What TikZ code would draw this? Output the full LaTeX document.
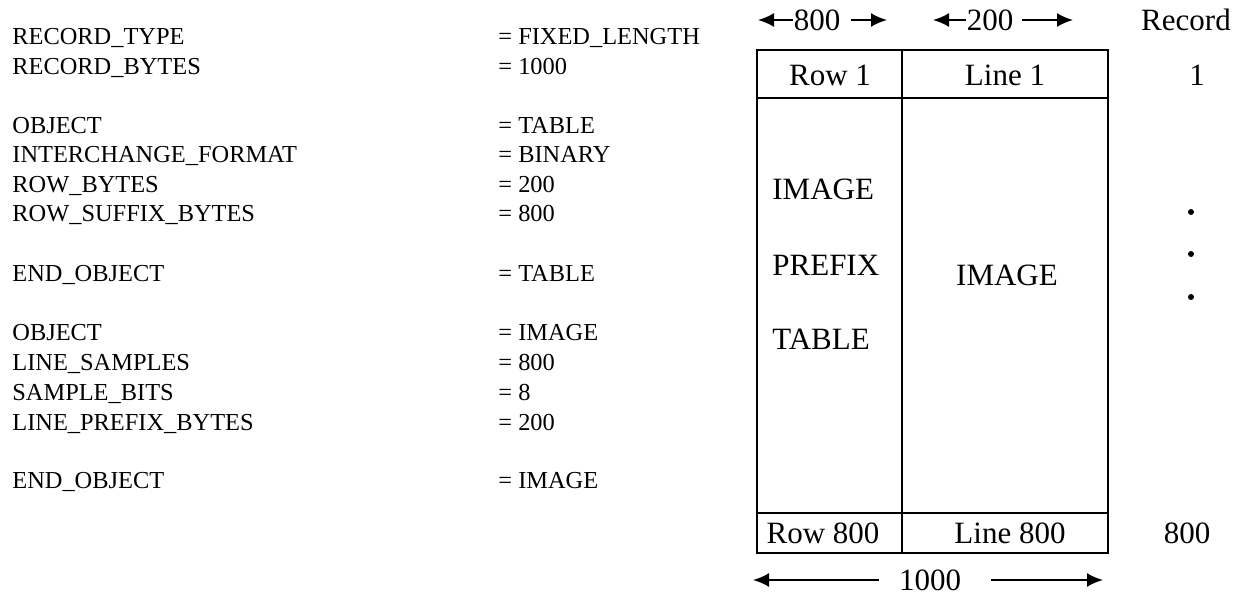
\documentclass[tikz,border=0pt]{standalone}
\usepackage{fontspec}
\setmainfont{Liberation Serif}
\usetikzlibrary{arrows.meta}

\begin{document}
\begin{tikzpicture}[
  x=0.5pt, y=-0.5pt,
  key/.style   = {anchor=base west, inner sep=0pt, font=\fontsize{12.2}{14}\selectfont},
  cell/.style  = {inner sep=0pt, font=\fontsize{15.5}{18}\selectfont},
  tag/.style   = {cell, anchor=base west},
  frame/.style = {line width=1.2pt, black},
  dim/.style   = {-{Latex[length=8pt, width=7pt]}, line width=1pt},
  dot/.style   = {fill=black}
]
\useasboundingbox (0,0) rectangle (1239,603);

% ── Label listing (left) ─────────────────────────────────────────────────────
\node[key] (k1)  at (12,45)    {RECORD\_TYPE};        \node[key] (v1)  at (498,45)    {= FIXED\_LENGTH};
\node[key] (k2)  at (12,74.5)  {RECORD\_BYTES};       \node[key] (v2)  at (498,74.5)  {= 1000};
\node[key] (k3)  at (12,133.5) {OBJECT};              \node[key] (v3)  at (498,133.5) {= TABLE};
\node[key] (k4)  at (12,163)   {INTERCHANGE\_FORMAT}; \node[key] (v4)  at (498,163)   {= BINARY};
\node[key] (k5)  at (12,192.5) {ROW\_BYTES};          \node[key] (v5)  at (498,192.5) {= 200};
\node[key] (k6)  at (12,222)   {ROW\_SUFFIX\_BYTES};  \node[key] (v6)  at (498,222)   {= 800};
\node[key] (k7)  at (12,282)   {END\_OBJECT};         \node[key] (v7)  at (498,282)   {= TABLE};
\node[key] (k8)  at (12,341)   {OBJECT};              \node[key] (v8)  at (498,341)   {= IMAGE};
\node[key] (k9)  at (12,371)   {LINE\_SAMPLES};       \node[key] (v9)  at (498,371)   {= 800};
\node[key] (k10) at (12,401)   {SAMPLE\_BITS};        \node[key] (v10) at (498,401)   {= 8};
\node[key] (k11) at (12,431)   {LINE\_PREFIX\_BYTES}; \node[key] (v11) at (498,431)   {= 200};
\node[key] (k12) at (12,489)   {END\_OBJECT};         \node[key] (v12) at (498,489)   {= IMAGE};

% ── File layout box ──────────────────────────────────────────────────────────
\draw[frame] (757,50) rectangle (1108,553);
\draw[frame] (757,98)  -- (1108,98);
\draw[frame] (757,513) -- (1108,513);
\draw[frame] (902,50)  -- (902,553);

\node[cell] (row1)  at (830,75)  {Row 1};
\node[cell] (line1) at (1005,75) {Line 1};
\node[tag]  (pre1)  at (772,199.5) {IMAGE};
\node[tag]  (pre2)  at (772,275.5) {PREFIX};
\node[tag]  (pre3)  at (772,349.5) {TABLE};
\node[cell] (img)   at (1007,275) {IMAGE};
\node[cell] (row800)  at (823,533)  {Row 800};
\node[cell] (line800) at (1010,533) {Line 800};

% ── Record numbers ───────────────────────────────────────────────────────────
\node[cell] (rec)    at (1186,20)  {Record};
\node[cell] (rec1)   at (1197,75)  {1};
\node[cell] (rec800) at (1187,533) {800};
\fill[dot] (1191,212) circle (1.5pt);
\fill[dot] (1191,254) circle (1.5pt);
\fill[dot] (1191,297) circle (1.5pt);

% ── Width arrows ─────────────────────────────────────────────────────────────
\node[cell] (w800)  at (817,20)  {800};
\node[cell] (w200)  at (990,20)  {200};
\node[cell] (w1000) at (930,580) {1000};
\coordinate (w800l)  at (758,20);
\coordinate (w800r)  at (887,20);
\coordinate (w200l)  at (933,20);
\coordinate (w200r)  at (1073,20);
\coordinate (w1000l) at (753,580);
\coordinate (w1000r) at (1103,580);

\draw[dim] (w800.west) -- (w800l);
\draw[dim] ([xshift=5pt]w800.east) -- (w800r);
\draw[dim] (w200.west) -- (w200l);
\draw[dim] ([xshift=4pt]w200.east) -- (w200r);
\draw[dim] ([xshift=-10pt]w1000.west) -- (w1000l);
\draw[dim] ([xshift=15pt]w1000.east) -- (w1000r);
\end{tikzpicture}
\end{document}
